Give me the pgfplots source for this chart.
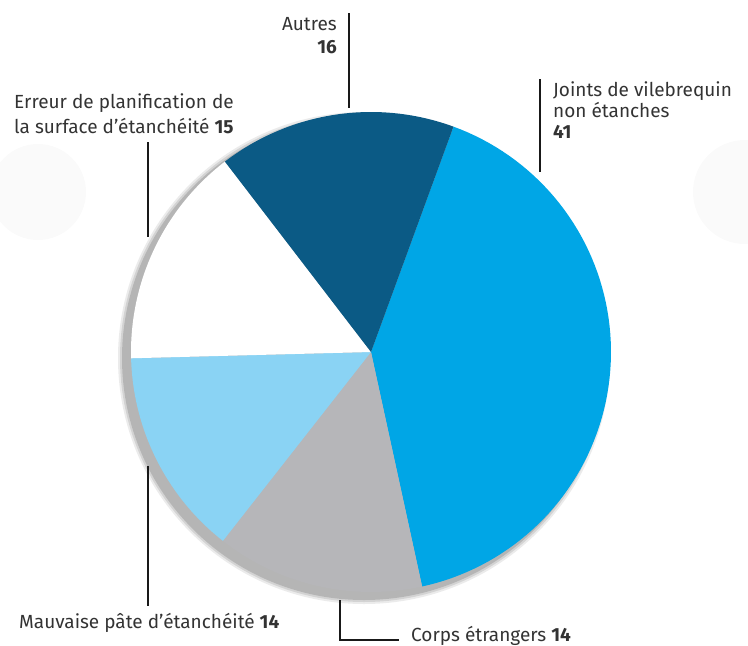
\documentclass[border=0pt]{standalone}
\usepackage{pgfplots}
\pgfplotsset{compat=1.18}
\usepackage{fontspec}
\setmainfont{Fira Sans}
\definecolor{cJoints}{HTML}{00A6E6}
\definecolor{cCorps}{HTML}{B6B6B9}
\definecolor{cMauvaise}{HTML}{8AD3F4}
\definecolor{cErreur}{HTML}{FFFFFF}
\definecolor{cAutres}{HTML}{0B5A85}
\definecolor{txt}{HTML}{333333}
\begin{document}
\begin{tikzpicture}
\useasboundingbox (0,0) rectangle (748pt,646pt);
\begin{axis}[
  at={(0,0)}, anchor=south west,
  width=748pt, height=646pt, scale only axis,
  xmin=0, xmax=748, ymin=0, ymax=646, y dir=reverse,
  hide axis, clip=false,
]
% faint background discs
\fill[black!2] (axis cs:38,192) circle[radius=48pt];
\fill[black!2] (axis cs:745,192) circle[radius=52pt];
% soft shadow
\fill[black, opacity=0.08] (axis cs:364,358) circle[radius=246pt];
\fill[black, opacity=0.10] (axis cs:364,358) circle[radius=244pt];
\fill[black, opacity=0.14] (axis cs:364,358) circle[radius=242pt];
% Pie slices (values: 41, 14, 14, 15, 16 %; 3.6 deg per %), start 69.9 deg, clockwise
% Joints de vilebrequin non etanches 41
\addplot[fill=cJoints, draw=none, domain=-77.7:69.9, samples=80] ({371+240*cos(x)},{352-240*sin(x)}) -- (axis cs:371,352) -- cycle;
% Corps etrangers 14
\addplot[fill=cCorps, draw=none, domain=-128.1:-77.7, samples=40] ({371+240*cos(x)},{352-240*sin(x)}) -- (axis cs:371,352) -- cycle;
% Mauvaise pate 14
\addplot[fill=cMauvaise, draw=none, domain=-178.5:-128.1, samples=40] ({371+240*cos(x)},{352-240*sin(x)}) -- (axis cs:371,352) -- cycle;
% Erreur de planification 15
\addplot[fill=cErreur, draw=none, domain=-232.5:-178.5, samples=40] ({371+240*cos(x)},{352-240*sin(x)}) -- (axis cs:371,352) -- cycle;
% Autres 16
\addplot[fill=cAutres, draw=none, domain=-290.1:-232.5, samples=40] ({371+240*cos(x)},{352-240*sin(x)}) -- (axis cs:371,352) -- cycle;

% leader lines
\draw[black!90, line width=1.6pt] (axis cs:349,13) -- (axis cs:349,108);
\draw[black!90, line width=1.6pt] (axis cs:540,79) -- (axis cs:540,172);
\draw[black!90, line width=1.6pt] (axis cs:148,142) -- (axis cs:148,237);
\draw[black!90, line width=1.6pt] (axis cs:148,466) -- (axis cs:148,606);
\draw[black!90, line width=1.6pt] (axis cs:340,600) -- (axis cs:340,640) -- (axis cs:399,640);

% labels
\tikzset{lab/.style={inner sep=0pt, text=txt, font=\fontsize{19}{23}\selectfont}}
\node[lab, anchor=base east] at (axis cs:337,30) {Autres};
\node[lab, anchor=base east] at (axis cs:337,53) {\textbf{16}};
\node[lab, anchor=base west] at (axis cs:553,96) {Joints de vilebrequin};
\node[lab, anchor=base west] at (axis cs:553,117) {non étanches};
\node[lab, anchor=base west] at (axis cs:553,138) {\textbf{41}};
\node[lab, anchor=base west] at (axis cs:14,108) {Erreur de planification de};
\node[lab, anchor=base west] at (axis cs:14,133) {la surface d’étanchéité \textbf{15}};
\node[lab, anchor=base west] at (axis cs:19,628) {Mauvaise pâte d’étanchéité \textbf{14}};
\node[lab, anchor=base west] at (axis cs:411,641) {Corps étrangers \textbf{14}};
\end{axis}
\end{tikzpicture}
\end{document}
